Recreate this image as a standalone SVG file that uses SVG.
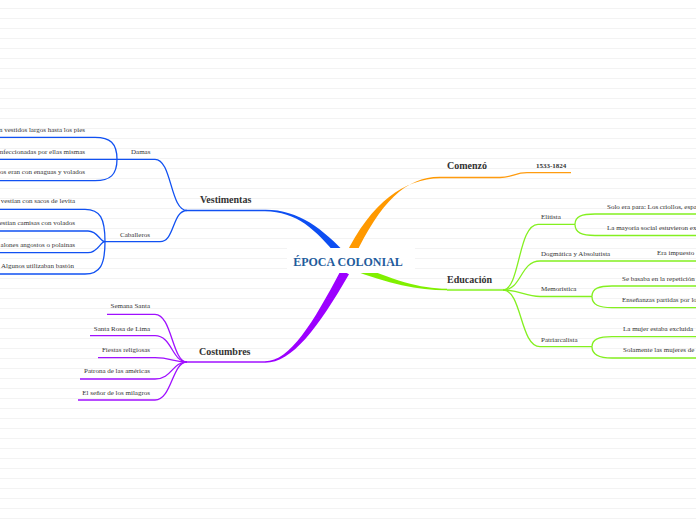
<svg xmlns="http://www.w3.org/2000/svg" width="696" height="520" viewBox="0 0 696 520">
<defs>
<pattern id="rules" x="0" y="0" width="696" height="10" patternUnits="userSpaceOnUse">
<rect x="0" y="8" width="696" height="1" fill="#f3f3f3"/>
</pattern>
</defs>
<style>
.t{font-family:"Liberation Serif","Times New Roman",serif;font-size:7px;fill:#333}
.m{font-family:"Liberation Serif","Times New Roman",serif;font-size:10px;font-weight:bold;fill:#333}
.d{font-family:"Liberation Serif","Times New Roman",serif;font-size:7px;font-weight:bold;fill:#333}
.c{font-family:"Liberation Serif","Times New Roman",serif;font-size:12px;font-weight:bold;fill:#1f5c9c}
.e{text-anchor:end}
.b{fill:none;stroke:#1151f2;stroke-width:1.3}
.o{fill:none;stroke:#ff9c10;stroke-width:1.3}
.g{fill:none;stroke:#84f020;stroke-width:1.3}
.p{fill:none;stroke:#a010ff;stroke-width:1.3}
</style>
<rect width="696" height="520" fill="#ffffff"/>
<rect width="696" height="520" fill="url(#rules)"/>

<g id="connectors">
<path d="M265,209.8 C300,209.6 324,230 351.4,259.1 L344.6,264.9 C320,234 300,211.4 265,211.2 Z" fill="#0d4ef2"/>
<path d="M440,176.8 C405,176.6 379,204 353,260 L345,256 C371,202 405,178.4 440,178.2 Z" fill="#ff9900"/>
<path d="M447,288.8 C420,288.6 392,280 353,262.5 L350,269 C388,284 420,290.4 447,290.2 Z" fill="#80f000"/>
<path d="M265,361.3 C290,361.2 313,323 341,270 L349,274.2 C318,328 292,362.8 265,362.7 Z" fill="#9c00ff"/>
<path class="b" d="M187,210.5 L265,210.5"/>
<path class="b" d="M0,159.3 L155,159.3 C172,159.3 170,210.5 187,210.5"/>
<path class="b" d="M105,241.7 L160,241.7 C175,241.7 172,210.5 187,210.5"/>
<path class="b" d="M0,137.3 L95,137.3 C110,137.3 117,143 117,159.3"/>
<path class="b" d="M0,180.7 L95,180.7 C110,180.7 117,175 117,159.3"/>
<path class="b" d="M0,209.3 L85,209.3 C100,209.3 105,218 105,241.7"/>
<path class="b" d="M0,231 L88,231 C98,231 100,241.7 105,241.7"/>
<path class="b" d="M0,252.7 L88,252.7 C98,252.7 100,241.7 105,241.7"/>
<path class="b" d="M0,274 L85,274 C100,274 105,265 105,241.7"/>
<path class="o" d="M440,177.5 L500,177.5 C512,177.5 515,172.7 527,172.7 L571,172.7"/>
<path class="g" d="M447,290 L503,290"/>
<path class="g" d="M503,290 C520,290 518,224.3 538,224.3 L575,224.3"/>
<path class="g" d="M503,290 C522,290 520,261 540,261 L696,261"/>
<path class="g" d="M503,290 C520,290 525,296.5 540,296.5 L592,296.5"/>
<path class="g" d="M503,290 C522,290 520,346.7 540,346.7 L592,346.7"/>
<path class="g" d="M575,224.3 C575,216 582,214 595,214 L696,214"/>
<path class="g" d="M575,224.3 C575,233 582,235.5 595,235.5 L696,235.5"/>
<path class="g" d="M592,296.5 C592,288 599,286 612,286 L696,286"/>
<path class="g" d="M592,296.5 C592,305 599,307.7 612,307.7 L696,307.7"/>
<path class="g" d="M592,346.7 C592,339 599,336.7 612,336.7 L696,336.7"/>
<path class="g" d="M592,346.7 C592,355 599,358 612,358 L696,358"/>
<path class="p" d="M187,362 L265,362"/>
<path class="p" d="M107,314.3 L155,314.3 C172,314.3 172,362 187,362"/>
<path class="p" d="M90,335.7 L155,335.7 C172,335.7 172,362 187,362"/>
<path class="p" d="M98,357.7 L155,357.7 C170,357.7 175,362 187,362"/>
<path class="p" d="M80,379 L155,379 C172,379 172,362 187,362"/>
<path class="p" d="M78,400 L155,400 C172,400 172,362 187,362"/>
</g>

<g id="root">
<rect x="287" y="248" width="128" height="25" fill="#ffffff"/>
<text class="c" x="348" y="265.5" text-anchor="middle">ÉPOCA COLONIAL</text>
</g>

<g id="vestimentas"><text class="m" x="200" y="203">Vestimentas</text></g>
<g id="damas"><text class="t" x="131" y="153.7">Damas</text></g>
<g id="damas-1"><text class="t e" x="85" y="131.5">n vestidos largos hasta los pies</text></g>
<g id="damas-2"><text class="t e" x="85" y="153.7">nfeccionadas por ellas mismas</text></g>
<g id="damas-3"><text class="t e" x="85" y="174.3">os eran con enaguas y volados</text></g>
<g id="caballeros"><text class="t" x="120" y="237">Caballeros</text></g>
<g id="cab-1"><text class="t e" x="75" y="203.3">vestían con sacos de levita</text></g>
<g id="cab-2"><text class="t e" x="75" y="225.3">estían camisas con volados</text></g>
<g id="cab-3"><text class="t e" x="75" y="246.7">alones angostos o polainas</text></g>
<g id="cab-4"><text class="t e" x="74" y="268.3">Algunos utilizaban bastón</text></g>

<g id="costumbres"><text class="m" x="199" y="354.5">Costumbres</text></g>
<g id="cos-1"><text class="t e" x="150" y="308.3">Semana Santa</text></g>
<g id="cos-2"><text class="t e" x="150" y="330.7">Santa Rosa de Lima</text></g>
<g id="cos-3"><text class="t e" x="150" y="352.3">Fiestas religiosas</text></g>
<g id="cos-4"><text class="t e" x="150" y="373.3">Patrona de las américas</text></g>
<g id="cos-5"><text class="t e" x="150" y="395">El señor de los milagros</text></g>

<g id="comenzo"><text class="m" x="447" y="169">Comenzó</text></g>
<g id="fechas"><text class="d" x="536" y="167.5">1533-1824</text></g>

<g id="educacion"><text class="m" x="447" y="283">Educación</text></g>
<g id="elitista"><text class="t" x="541" y="219">Elitista</text></g>
<g id="eli-1"><text class="t" x="607" y="208.7">Solo era para: Los criollos, espa</text></g>
<g id="eli-2"><text class="t" x="607" y="230">La mayoría social estuvieron ex</text></g>
<g id="dogmatica"><text class="t" x="541" y="256">Dogmática y Absolutista</text></g>
<g id="dog-1"><text class="t" x="657" y="255">Era impuesto</text></g>
<g id="memoristica"><text class="t" x="541" y="290.7">Memorística</text></g>
<g id="mem-1"><text class="t" x="622" y="280.7">Se basaba en la repetición</text></g>
<g id="mem-2"><text class="t" x="622" y="302.3">Enseñanzas partidas por lo</text></g>
<g id="patriarcalista"><text class="t" x="541" y="342">Patriarcalista</text></g>
<g id="pat-1"><text class="t" x="623" y="330.7">La mujer estaba excluida</text></g>
<g id="pat-2"><text class="t" x="623" y="352.3">Solamente las mujeres de</text></g>
</svg>
